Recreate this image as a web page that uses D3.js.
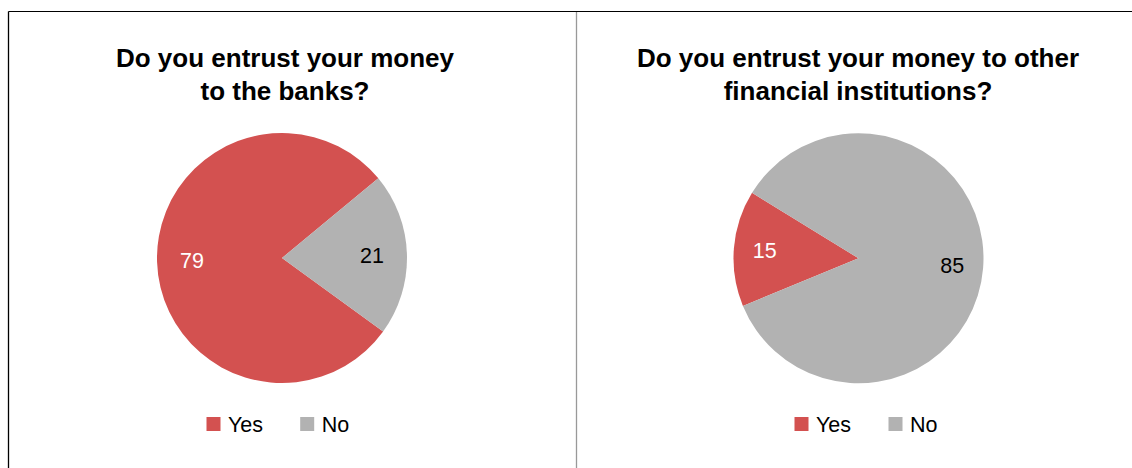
<!DOCTYPE html>
<html>
<head>
<meta charset="utf-8">
<script src="https://cdn.jsdelivr.net/npm/d3@7"></script>
<style>
  html, body { margin: 0; padding: 0; background: #fff; }
  svg { display: block; font-family: "Liberation Sans", Arial, sans-serif; }
</style>
</head>
<body>
<svg id="chart" width="1132" height="468"></svg>
<script>
// ---- Data ----
const categories = ["Yes", "No"];
const banksValues = [79, 21];
const otherValues = [15, 85];
const banksTitle = ["Do you entrust your money", "to the banks?"];
const otherTitle = ["Do you entrust your money to other", "financial institutions?"];

// ---- Styles / layout ----
const colors = ["#D35150", "#B2B2B2"];
const labelColors = ["#ffffff", "#000000"];
const W = 1132, H = 468;
const svg = d3.select("#chart");

// frame
svg.append("line").attr("x1", 8.5).attr("x2", 1132).attr("y1", 11.5).attr("y2", 11.5)
  .attr("stroke", "#000").attr("stroke-width", 1);
svg.append("line").attr("x1", 8.5).attr("x2", 8.5).attr("y1", 11.5).attr("y2", H)
  .attr("stroke", "#000").attr("stroke-width", 1.3);
svg.append("line").attr("x1", 576.5).attr("x2", 576.5).attr("y1", 12).attr("y2", H)
  .attr("stroke", "#999").attr("stroke-width", 1.3);

const color = d3.scaleOrdinal().domain(categories).range(colors);
const labelColor = d3.scaleOrdinal().domain(categories).range(labelColors);

function drawPie(cfg) {
  const g = svg.append("g");
  // title
  const t = g.append("text")
    .attr("text-anchor", "middle")
    .attr("font-size", 26).attr("font-weight", "bold").attr("fill", "#000");
  cfg.title.forEach((line, i) => {
    t.append("tspan").attr("x", cfg.titleX).attr("y", 66.5 + i * 33.5).text(line);
  });

  const r = 125;
  const start = cfg.startDeg * Math.PI / 180;
  const pie = d3.pie().sort(null).value(d => d.value)
    .startAngle(start).endAngle(start + 2 * Math.PI);
  const arcs = pie(categories.map((c, i) => ({ cat: c, value: cfg.values[i] })));
  const arc = d3.arc().innerRadius(0).outerRadius(r);
  const labelArc = d3.arc().innerRadius(cfg.labelR).outerRadius(cfg.labelR);

  const pg = g.append("g").attr("transform", `translate(${cfg.cx},${cfg.cy})`);
  pg.selectAll("path").data(arcs).join("path")
    .attr("d", arc).attr("fill", d => color(d.data.cat));
  pg.selectAll("text").data(arcs).join("text")
    .attr("transform", d => `translate(${labelArc.centroid(d)})`)
    .attr("text-anchor", "middle").attr("dy", "0.35em")
    .attr("font-size", 21.5)
    .attr("fill", d => labelColor(d.data.cat))
    .text(d => d.data.value);

  // legend
  const lg = g.append("g");
  categories.forEach((c, i) => {
    const x = cfg.legendX[i];
    lg.append("rect").attr("x", x).attr("y", 417).attr("width", 14).attr("height", 14)
      .attr("fill", color(c));
    lg.append("text").attr("x", x + 21.5).attr("y", 431.7)
      .attr("font-size", 21.5).attr("fill", "#000").text(c);
  });
}

drawPie({ title: banksTitle, titleX: 285, values: banksValues, cx: 282, cy: 258,
  startDeg: 126, labelR: 90, legendX: [206.5, 300.2] });
drawPie({ title: otherTitle, titleX: 858, values: otherValues, cx: 858.5, cy: 258.3,
  startDeg: 247.6, labelR: 94, legendX: [794.5, 888.5] });
</script>
</body>
</html>
